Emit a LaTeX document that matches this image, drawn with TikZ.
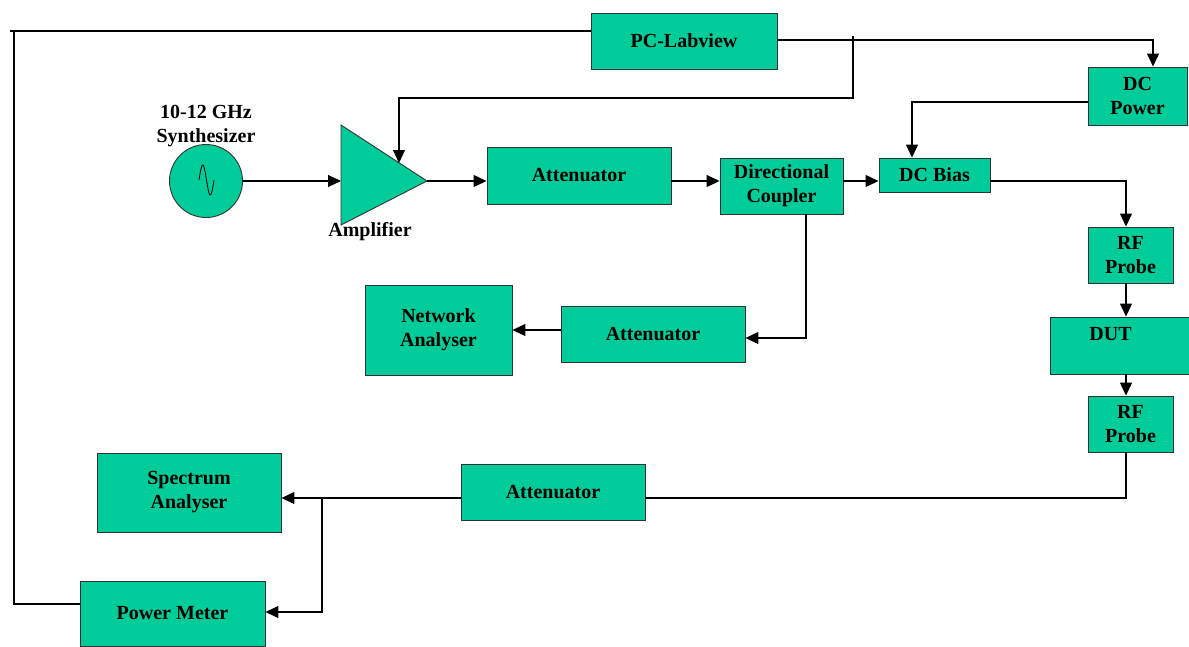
\documentclass[tikz,border=0pt]{standalone}
\usepackage{fontspec}
\setmainfont{Liberation Serif}
\usetikzlibrary{arrows.meta,positioning,calc}
\definecolor{boxgreen}{RGB}{0,204,153}
\definecolor{boxline}{RGB}{50,50,50}

\begin{document}
\begin{tikzpicture}[x=1pt,y=-1pt,
  blk/.style={draw=boxline,line width=0.9pt,fill=boxgreen,align=center,
    font=\fontsize{20}{24}\selectfont\bfseries,inner sep=0pt},
  wire/.style={black,line width=1.1pt},
  arr/.style={wire,-{Triangle[length=13pt,width=12pt]}},
  lbl/.style={align=center,font=\fontsize{20}{24}\selectfont\bfseries}
]
\useasboundingbox (0,0) rectangle (1189,646);

% blocks
\node[blk,minimum width=186pt,minimum height=56pt] (pc) at (684,41) {PC-Labview};
\node[blk,minimum width=99pt,minimum height=58pt] (dcpower) at (1137.5,96) {DC\\Power};
\node[blk,circle,minimum size=73pt] (synth) at (206,181) {};
\node[lbl] (synthlbl) at (206,126) {10-12 GHz\\Synthesizer};
\node[blk,minimum width=184pt,minimum height=57pt] (att1) at (579,175.5) {Attenuator};
\node[blk,minimum width=123pt,minimum height=56pt] (coupler) at (781.5,186) {Directional\\Coupler};
\node[blk,minimum width=111pt,minimum height=34pt] (dcbias) at (934.5,175) {DC Bias};
\node[blk,minimum width=85pt,minimum height=56pt] (probe1) at (1130.5,255) {RF\\Probe};
\node[blk,minimum width=139pt,minimum height=57pt] (dut) at (1119.5,345.5) {\hspace*{-18pt}DUT\\\mbox{}};
\node[blk,minimum width=85pt,minimum height=56pt] (probe2) at (1130.5,424) {RF\\Probe};
\node[blk,minimum width=147pt,minimum height=90pt] (netan) at (438.5,330) {Network\\Analyser};
\node[blk,minimum width=184pt,minimum height=56pt] (att2) at (653,334) {Attenuator};
\node[blk,minimum width=184pt,minimum height=56pt] (att3) at (553,492) {Attenuator};
\node[blk,minimum width=184pt,minimum height=79pt] (spec) at (189,492.5) {Spectrum\\Analyser};
\node[blk,minimum width=185pt,minimum height=65pt] (power) at (172.5,613.5) {Power Meter};

% amplifier
\draw[draw=boxline,line width=0.9pt,fill=boxgreen] (341,125) -- (427,181) -- (341,225) -- cycle;
\coordinate (ampin) at (341,181);
\coordinate (ampout) at (427,181);
\coordinate (ampbias) at (399,163);
\node[lbl] (amplbl) at (370,232) {Amplifier};

% sine in the synthesizer
\draw[wire,line width=0.8pt,domain=0:15,samples=40,smooth]
  plot ({199+\x},{180-15*sin(24*\x)});

% control lines
\coordinate (ctl) at (14,31);
\coordinate (ctlb) at (14,604);
\coordinate (bus) at (1153,40);
\coordinate (tee) at (853,36);
\coordinate (bias) at (912,102);
\draw[wire] (pc.west |- ctl) -- (10,31);
\draw[wire] (ctl) -- (ctlb) -- (ctlb -| power.west);
\draw[arr] (pc.east |- bus) -- (bus) -- (bus |- dcpower.north);
\draw[arr] (tee) |- (ampbias |- 0,98) -- (ampbias);
\draw[arr] (dcpower.west |- bias) -- (bias) -- (bias |- dcbias.north);

% rf path
\coordinate (rf) at (0,181);
\draw[arr] (synth.east) -- (ampin);
\draw[arr] (ampout) -- (ampout -| att1.west);
\draw[arr] (att1.east |- rf) -- (coupler.west |- rf);
\draw[arr] (coupler.east |- rf) -- (dcbias.west |- rf);
\draw[arr] (dcbias.east |- rf) -| (1126,0 |- probe1.north);
\draw[arr] (probe1.south -| 1126,0) -- (1126,0 |- dut.north);
\draw[arr] (dut.south -| 1126,0) -- (1126,0 |- probe2.north);
\coordinate (cpl) at (806,214);
\draw[arr] (cpl) |- (att2.east |- 0,338);
\draw[arr] (att2.west |- netan.east) -- (netan.east);

% output side
\coordinate (tap) at (322,498);
\draw[wire] (probe2.south -| 1126,0) |- (att3.east |- tap);
\draw[arr] (att3.west |- tap) -- (spec.east |- tap);
\draw[arr] (tap) |- (power.east |- 0,612);
\end{tikzpicture}
\end{document}
